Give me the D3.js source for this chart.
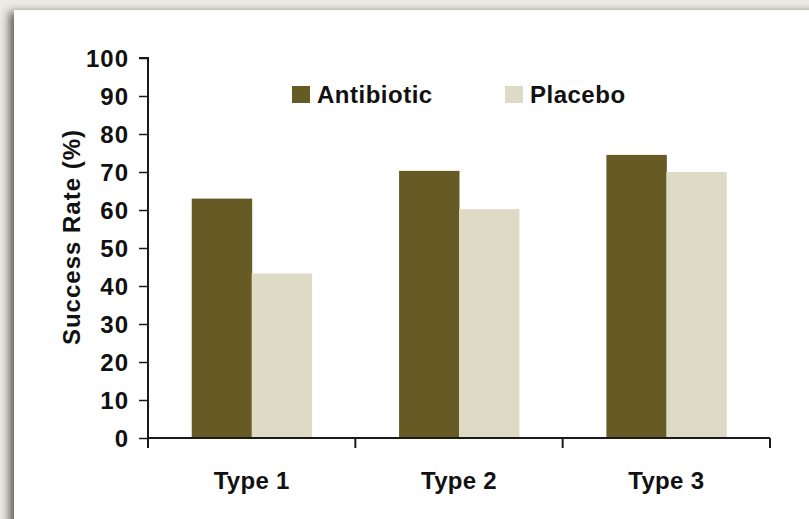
<!DOCTYPE html>
<html>
<head>
<meta charset="utf-8">
<script src="https://cdn.jsdelivr.net/npm/d3@7"></script>
<style>
  html, body { margin: 0; padding: 0; background: #ebeae3; }
  svg { display: block; }
  text { font-family: "Liberation Sans", Arial, Helvetica, sans-serif; font-weight: bold; fill: #111; }
</style>
</head>
<body>
<script>
// Chart data
var categories = ["Type 1", "Type 2", "Type 3"];
var seriesNames = ["Antibiotic", "Placebo"];
var antibiotic = [63, 70.3, 74.5];
var placebo = [43.3, 60.2, 70];
var yTicks = [0, 10, 20, 30, 40, 50, 60, 70, 80, 90, 100];

var seriesColors = { "Antibiotic": "#665a25", "Placebo": "#dddac5" };

var width = 809, height = 519;

var svg = d3.select("body").append("svg")
    .attr("width", width)
    .attr("height", height);

// card shadow
var defs = svg.append("defs");
var f = defs.append("filter").attr("id", "shadow")
    .attr("x", "-10%").attr("y", "-10%").attr("width", "120%").attr("height", "120%");
f.append("feDropShadow")
    .attr("dx", -5).attr("dy", 2).attr("stdDeviation", 4)
    .attr("flood-color", "#3a382e").attr("flood-opacity", 0.75);

svg.append("rect")
    .attr("x", 0).attr("y", 0).attr("width", width).attr("height", height)
    .attr("fill", "#ebeae3");
svg.append("rect")
    .attr("x", 14).attr("y", 10).attr("width", 900).attr("height", 600)
    .attr("fill", "#fff")
    .attr("filter", "url(#shadow)");

// scales
var x0 = d3.scaleBand().domain(categories).range([148, 770]).padding(0);
var x1 = d3.scaleBand().domain(seriesNames).range([0, x0.bandwidth()]).paddingInner(0).paddingOuter(0.73);
var y = d3.scaleLinear().domain([0, 100]).range([438, 58]);

var rows = categories.map(function(c, i) {
  return { cat: c, values: [
    { name: "Antibiotic", value: antibiotic[i] },
    { name: "Placebo", value: placebo[i] }
  ] };
});

// bars
var groups = svg.selectAll(".group")
    .data(rows)
    .enter().append("g")
    .attr("class", "group")
    .attr("transform", function(d) { return "translate(" + x0(d.cat) + ",0)"; });

groups.selectAll("rect")
    .data(function(d) { return d.values; })
    .enter().append("rect")
    .attr("x", function(d) { return x1(d.name); })
    .attr("width", x1.bandwidth() + 0.5)
    .attr("y", function(d) { return y(d.value); })
    .attr("height", function(d) { return y(0) - y(d.value); })
    .attr("fill", function(d) { return seriesColors[d.name]; });

// y axis
var yAxis = svg.append("g")
    .attr("transform", "translate(148,0)")
    .call(d3.axisLeft(y).tickValues(yTicks).tickSize(9).tickPadding(10));
yAxis.select(".domain").attr("stroke", "#1a1a1a").attr("stroke-width", 2)
    .attr("d", "M-9," + y(100) + "H0V" + y(0));
yAxis.selectAll(".tick line").attr("stroke", "#1a1a1a").attr("stroke-width", 1.5);
yAxis.selectAll(".tick text")
    .style("font-size", "24px")
    .style("font-family", "'Liberation Sans', Arial, sans-serif")
    .style("font-weight", "bold")
    .style("letter-spacing", "1px")
    .attr("fill", "#111")
    .attr("dy", "0.36em");

// x axis: line with ticks at category boundaries
var bounds = [x0.range()[0]].concat(categories.map(function(c) { return x0(c) + x0.bandwidth(); }));
var xAxis = svg.append("g");
xAxis.append("line")
    .attr("x1", x0.range()[0]).attr("x2", x0.range()[1])
    .attr("y1", y(0)).attr("y2", y(0))
    .attr("stroke", "#1a1a1a").attr("stroke-width", 2);
xAxis.selectAll(".xtick")
    .data(bounds)
    .enter().append("line")
    .attr("class", "xtick")
    .attr("x1", function(d) { return d; }).attr("x2", function(d) { return d; })
    .attr("y1", y(0)).attr("y2", y(0) + 10)
    .attr("stroke", "#1a1a1a").attr("stroke-width", 2);

xAxis.selectAll(".xlabel")
    .data(categories)
    .enter().append("text")
    .attr("class", "xlabel")
    .attr("x", function(d) { return x0(d) + x0.bandwidth() / 2; })
    .attr("y", 489)
    .attr("text-anchor", "middle")
    .style("font-size", "24px")
    .style("letter-spacing", "0.3px")
    .text(function(d) { return d; });

// axis title
svg.append("text")
    .attr("transform", "translate(80,237) rotate(-90)")
    .attr("text-anchor", "middle")
    .style("font-size", "24px")
    .style("letter-spacing", "1px")
    .text("Success Rate (%)");

// legend
var legendX = { "Antibiotic": 292, "Placebo": 505 };
var legend = svg.selectAll(".legend")
    .data(seriesNames)
    .enter().append("g")
    .attr("class", "legend")
    .attr("transform", function(d) { return "translate(" + legendX[d] + ",86)"; });
legend.append("rect")
    .attr("width", 18).attr("height", 17)
    .attr("fill", function(d) { return seriesColors[d]; });
legend.append("text")
    .attr("x", 25).attr("y", 17)
    .style("font-size", "24px")
    .style("letter-spacing", "0.5px")
    .text(function(d) { return d; });
</script>
</body>
</html>
